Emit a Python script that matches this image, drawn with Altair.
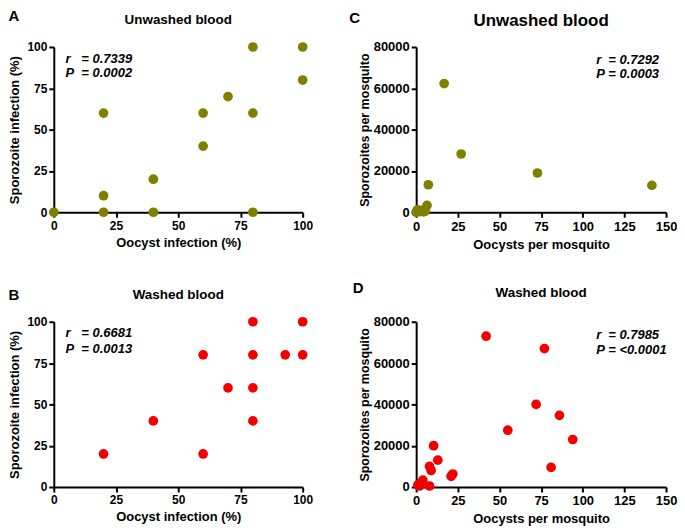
import altair as alt
import pandas as pd

# ---- data ----
A_oocyst = [0, 20, 20, 20, 40, 40, 60, 60, 70, 80, 80, 80, 100, 100]
A_sporo = [0, 60, 10, 0, 20, 0, 60, 40, 70, 100, 60, 0, 100, 80]

B_oocyst = [20, 40, 60, 60, 70, 80, 80, 80, 80, 93, 100, 100]
B_sporo = [20, 40, 80, 20, 60, 100, 80, 60, 40, 80, 100, 80]

C_oocysts = [0, 0.5, 1, 2, 3, 4, 4.5, 5.5, 6.5, 7.3, 16.8, 27, 72.8, 141.5]
C_sporozoites = [0, 800, 1200, 300, 500, 1000, 200, 600, 3300, 13300, 62300, 28200, 19000, 13000]

D_oocysts = [42, 77, 72, 86, 55, 94, 81, 10.5, 13, 8, 9, 22, 21, 4, 8, 1, 2, 3]
D_sporozoites = [73000, 67000, 40000, 34700, 27500, 23000, 9500, 20000, 13000, 10000, 8000, 6300, 5200, 3300, 500, 1000, 500, 2000]

stats = {
    "A": ("0.7339", "0.0002"),
    "B": ("0.6681", "0.0013"),
    "C": ("0.7292", "0.0003"),
    "D": ("0.7985", "<0.0001"),
}

OLIVE = "#808000"
RED = "#f20000"
FONT = "Liberation Sans"

W1, W2, H = 250, 251, 166


def txt(s, x, y, size, italic=False, align="left"):
    return alt.Chart(alt.Data(values=[{}])).mark_text(
        text=s, font=FONT, fontSize=size, fontWeight="bold",
        fontStyle="italic" if italic else "normal", color="black",
        align=align, baseline="alphabetic",
    ).encode(x=alt.value(x), y=alt.value(y))


def panel(xs, ys, color, W, xmax, xstep, ymax, ystep, xtitle, ytitle,
          label_size, ytitle_size, ytitle_pad, title, title_size, title_y,
          letter, letter_xy, key, stat_x, eq_x, r_y, p_y):
    df = pd.DataFrame({"x": xs, "y": ys})
    xaxis = alt.Axis(
        values=list(range(0, xmax + 1, xstep)), format="d", title=xtitle,
        grid=False, domainColor="black", domainWidth=2, tickColor="black",
        tickWidth=2, tickSize=5, labelFont=FONT, labelFontWeight="bold",
        labelFontSize=label_size, labelColor="black", labelPadding=3,
        titleFont=FONT, titleFontWeight="bold", titleFontSize=13,
        titleColor="black", titlePadding=5, labelFlush=False,
    )
    yaxis = alt.Axis(
        values=list(range(0, ymax + 1, ystep)), format="d", title=ytitle,
        grid=False, domainColor="black", domainWidth=2, tickColor="black",
        tickWidth=2, tickSize=5, labelFont=FONT, labelFontWeight="bold",
        labelFontSize=label_size, labelColor="black", labelPadding=2,
        titleFont=FONT, titleFontWeight="bold", titleFontSize=ytitle_size,
        titleColor="black", titlePadding=ytitle_pad, labelFlush=False,
    )
    pts = alt.Chart(df).mark_circle(size=95, opacity=1, color=color).encode(
        x=alt.X("x:Q", scale=alt.Scale(domain=[0, xmax], nice=False), axis=xaxis),
        y=alt.Y("y:Q", scale=alt.Scale(domain=[0, ymax], nice=False), axis=yaxis),
    )
    r, p = stats[key]
    layers = [
        pts,
        txt(title, W / 2, title_y, title_size, align="center"),
        txt(letter, letter_xy[0], letter_xy[1], 15),
        txt("r", stat_x, r_y, 13, italic=True),
        txt("= " + r, eq_x, r_y, 13, italic=True),
        txt("P", stat_x, p_y, 13, italic=True),
        txt("= " + p, eq_x, p_y, 13, italic=True),
    ]
    return alt.layer(*layers).properties(width=W, height=H)


A = panel(A_oocyst, A_sporo, OLIVE, W1, 100, 25, 100, 25,
          "Oocyst infection (%)", "Sporozoite infection (%)", 12, 13, 5,
          "Unwashed blood", 13.5, -22.7, "A", (-45.6, -26), "A",
          11.7, 27.7, 16.3, 30.5)
B = panel(B_oocyst, B_sporo, RED, W1, 100, 25, 100, 25,
          "Oocyst infection (%)", "Sporozoite infection (%)", 12, 13, 5,
          "Washed blood", 13.5, -23, "B", (-45.6, -22.3), "B",
          11.7, 27.7, 15, 31)
C = panel(C_oocysts, C_sporozoites, OLIVE, W2, 150, 25, 80000, 20000,
          "Oocysts per mosquito", "Sporozoites per mosquito", 13, 12.5, 2,
          "Unwashed blood", 17, -21, "C", (-67.3, -24.4), "C",
          181, 193, 17.3, 31.6)
D = panel(D_oocysts, D_sporozoites, RED, W2, 150, 25, 80000, 20000,
          "Oocysts per mosquito", "Sporozoites per mosquito", 13, 12.5, 2,
          "Washed blood", 13.5, -24.7, "D", (-63.7, -29), "D",
          181, 193, 17, 32.6)

row1 = alt.hconcat(A, C, spacing=35)
row2 = alt.hconcat(B, D, spacing=39)
chart = alt.vconcat(row1, row2, spacing=30).properties(
    padding={"left": 0, "top": 0, "right": 0, "bottom": 0}
).configure_view(stroke=None)

chart.save("out.html", embed_options={"renderer": "svg", "actions": False})
